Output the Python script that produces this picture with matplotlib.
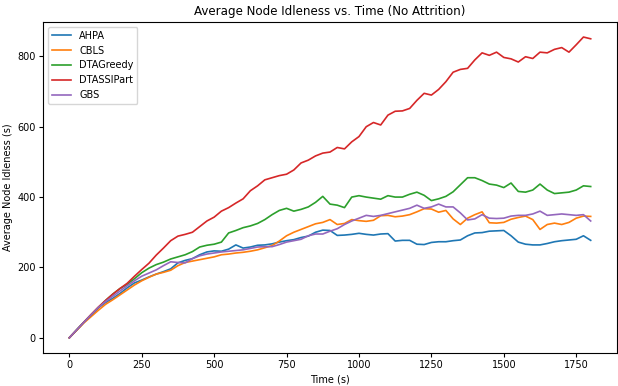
import numpy as np
import matplotlib
matplotlib.use('Agg')
import matplotlib.pyplot as plt

# time axis (s), sampled every 25 s
time_s = np.arange(0, 1801, 25)

ahpa = [0, 22, 44, 65, 85, 100, 112, 126, 142, 156, 164, 173, 181, 188, 196, 213, 220, 225, 236, 244,
        247, 246, 252, 264, 255, 258, 263, 264, 267, 272, 276, 279, 285, 289, 300, 306, 305, 291, 292, 294,
        297, 294, 292, 295, 296, 275, 277, 277, 266, 265, 271, 273, 273, 276, 278, 290, 298, 299, 303, 304,
        305, 290, 272, 266, 264, 264, 268, 273, 276, 278, 280, 290, 277]
cbls = [0, 21, 42, 60, 78, 95, 108, 122, 136, 150, 162, 172, 181, 186, 192, 205, 214, 218, 222, 226,
        230, 236, 238, 241, 243, 246, 250, 256, 262, 275, 290, 300, 308, 316, 324, 328, 336, 322, 325, 336,
        333, 331, 334, 347, 348, 344, 346, 350, 358, 367, 366, 357, 362, 338, 322, 340, 350, 358, 327, 326,
        328, 337, 342, 346, 336, 308, 322, 326, 322, 328, 340, 346, 345]
dtagreedy = [0, 22, 44, 65, 86, 106, 124, 140, 152, 168, 185, 198, 208, 215, 224, 230, 236, 245, 258, 263,
             266, 272, 298, 305, 313, 318, 325, 336, 350, 362, 368, 360, 365, 372, 385, 402, 380, 377, 370, 400,
             404, 400, 397, 394, 404, 400, 400, 408, 414, 405, 390, 395, 402, 415, 435, 455, 455, 447, 437, 434,
             427, 440, 416, 414, 420, 437, 420, 410, 412, 414, 420, 432, 430]
dtassipart = [0, 22, 44, 66, 87, 106, 124, 140, 155, 175, 194, 212, 235, 255, 276, 289, 294, 300, 316, 332,
              343, 360, 370, 383, 395, 418, 432, 449, 455, 461, 465, 477, 497, 505, 517, 525, 528, 541, 537, 557,
              572, 600, 612, 605, 633, 644, 645, 652, 675, 695, 690, 706, 728, 755, 763, 766, 790, 810, 803, 812,
              797, 793, 784, 799, 794, 812, 810, 820, 825, 812, 833, 855, 850]
gbs = [0, 22, 44, 65, 86, 103, 118, 133, 148, 162, 175, 184, 193, 205, 216, 214, 213, 225, 233, 238,
       241, 244, 246, 248, 250, 254, 258, 259, 259, 265, 272, 276, 280, 290, 295, 295, 303, 310, 322, 332,
       340, 348, 345, 348, 353, 358, 363, 368, 377, 368, 372, 380, 372, 372, 355, 335, 338, 350, 340, 339,
       340, 346, 348, 348, 352, 360, 348, 350, 352, 350, 348, 350, 332]

labels = ["AHPA", "CBLS", "DTAGreedy", "DTASSIPart", "GBS"]
series = [ahpa, cbls, dtagreedy, dtassipart, gbs]

plt.rcParams['font.size'] = 7
plt.rcParams['xtick.major.size'] = 3
plt.rcParams['ytick.major.size'] = 3
plt.rcParams['xtick.major.pad'] = 2.5
plt.rcParams['ytick.major.pad'] = 2.5
plt.rcParams['axes.labelpad'] = 3

fig = plt.figure(figsize=(6.18, 3.86), dpi=100)
ax = fig.add_axes([0.07, 0.086, 0.928, 0.857])
for name, vals in zip(labels, series):
    ax.plot(time_s, vals, label=name, linewidth=1.2)

ax.set_title("Average Node Idleness vs. Time (No Attrition)", fontsize=8.6, pad=5)
ax.set_xlabel("Time (s)")
ax.set_ylabel("Average Node Idleness (s)")
ax.set_xticks([0, 250, 500, 750, 1000, 1250, 1500, 1750])
ax.set_yticks([0, 200, 400, 600, 800])
ax.legend(loc="upper left")

fig.savefig("out.png", dpi=100)
